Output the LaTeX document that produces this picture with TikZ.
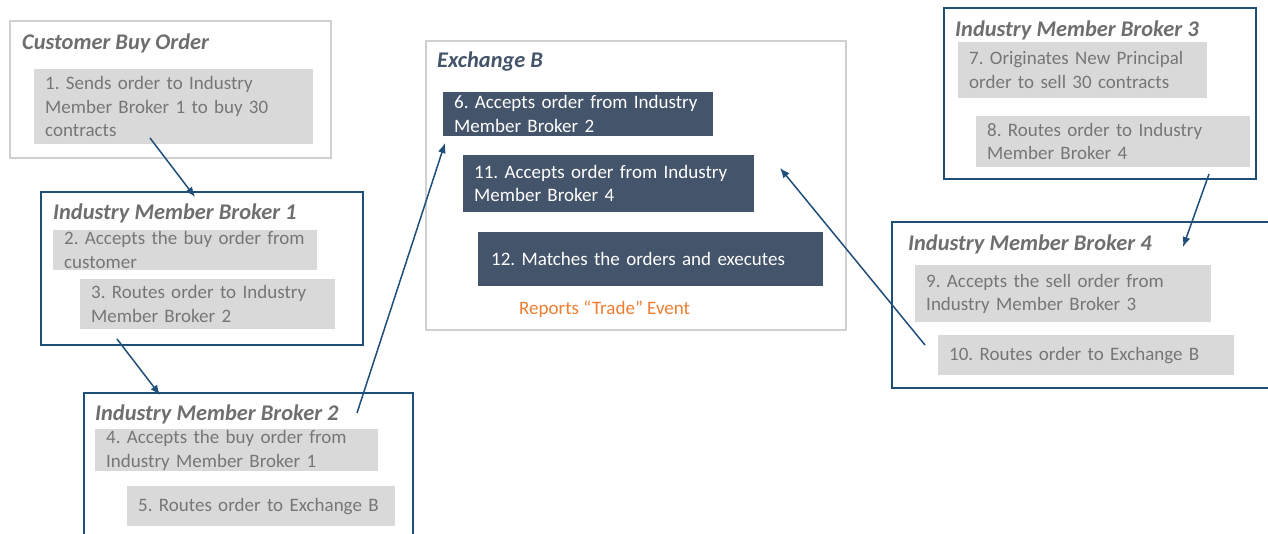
\documentclass[tikz,border=0pt]{standalone}
\usepackage{fontspec}
\setmainfont{Carlito}
\usetikzlibrary{arrows.meta}
\definecolor{framegray}{HTML}{D0D0D0}
\definecolor{framenavy}{HTML}{1F4E79}
\definecolor{stepgray}{HTML}{D9D9D9}
\definecolor{textgray}{HTML}{767676}
\definecolor{titlegray}{HTML}{6E6E6E}
\definecolor{slate}{HTML}{44546A}
\definecolor{tradeorange}{HTML}{ED7D31}
\tikzset{
    panel/.style = {draw=framegray, line width=2pt, anchor=north west, inner sep=0pt},
    broker/.style = {draw=framenavy, line width=2pt, anchor=north west, inner sep=0pt},
    paneltitle/.style = {anchor=west, inner sep=0pt, text=titlegray, font=\fontsize{22.4}{26}\selectfont\bfseries\itshape},
    stepbox/.style = {fill=stepgray, text=textgray, anchor=north west, align=left, inner xsep=11pt, inner ysep=0pt, font=\fontsize{19}{23.5}\selectfont\frenchspacing},
    exchbox/.style = {stepbox, fill=slate, text=white},
    flow/.style = {draw=framenavy, line width=1.5pt, -{Latex[length=10pt,width=8pt]}}
}
\begin{document}
\begin{tikzpicture}[x=1pt, y=-1pt]
    \clip (0,0) rectangle (1268,534);
    % frames
    \node[panel, minimum width=321pt, minimum height=137pt] (cust) at (9,20) {};
    \node[broker, minimum width=322pt, minimum height=153pt] (brk1) at (40,191) {};
    \node[broker, minimum width=329pt, minimum height=170pt] (brk2) at (83,392) {};
    \node[panel, minimum width=420pt, minimum height=289pt] (exch) at (425,40) {};
    \node[broker, minimum width=312pt, minimum height=171pt] (brk3) at (943,7) {};
    \node[broker, minimum width=400pt, minimum height=166pt] (brk4) at (891,221) {};
    % titles
    \node[paneltitle] (custT) at (22,43) {Customer Buy Order};
    \node[paneltitle] (brk1T) at (53,213) {Industry Member Broker 1};
    \node[paneltitle] (brk2T) at (95,414) {Industry Member Broker 2};
    \node[paneltitle, text=slate] (exchT) at (437,62) {Exchange B};
    \node[paneltitle] (brk3T) at (955,30) {Industry Member Broker 3};
    \node[paneltitle] (brk4T) at (908,244) {Industry Member Broker 4};
    % steps
    \node[stepbox, text width=257pt, minimum height=75pt] (s1) at (34,69) {1. Sends order to Industry\\Member Broker 1 to buy 30\\contracts};
    \node[stepbox, text width=242pt, minimum height=40pt] (s2) at (53,230) {2. Accepts the buy order from\\customer};
    \node[stepbox, text width=233pt, minimum height=50pt] (s3) at (80,279) {3. Routes order to Industry\\Member Broker 2};
    \node[stepbox, text width=261pt, minimum height=42pt] (s4) at (95,429) {4. Accepts the buy order from\\Industry Member Broker 1};
    \node[stepbox, text width=246pt, minimum height=40pt] (s5) at (127,486) {5. Routes order to Exchange B};
    \node[exchbox, text width=248pt, minimum height=44pt] (s6) at (443,92) {6. Accepts order from Industry\\Member Broker 2};
    \node[exchbox, text width=269pt, minimum height=57pt] (s11) at (463,155) {11. Accepts order from Industry\\Member Broker 4};
    \node[exchbox, text width=319pt, minimum height=54pt, inner xsep=13pt] (s12) at (478,232) {12. Matches the orders and executes};
    \node[anchor=west, inner sep=0pt, text=tradeorange, font=\fontsize{19}{23.5}\selectfont] (trade) at (519,309) {Reports “Trade” Event};
    \node[stepbox, text width=227pt, minimum height=56pt] (s7) at (958,42) {7. Originates New Principal\\order to sell 30 contracts};
    \node[stepbox, text width=252pt, minimum height=51pt] (s8) at (976,116) {8. Routes order to Industry\\Member Broker 4};
    \node[stepbox, text width=274pt, minimum height=57pt] (s9) at (915,265) {9. Accepts the sell order from\\Industry Member Broker 3};
    \node[stepbox, text width=274pt, minimum height=40pt] (s10) at (938,335) {10. Routes order to Exchange B};
    % arrow ends
    \coordinate (a1s) at (150,138);
    \coordinate (a1e) at (195,197);
    \coordinate (a2s) at (117,339);
    \coordinate (a2e) at (160,395);
    \coordinate (a3s) at (357,413);
    \coordinate (a3e) at (445,143);
    \coordinate (a4s) at (1209,174);
    \coordinate (a4e) at (1183,247);
    \coordinate (a5s) at (925,345);
    \coordinate (a5e) at (780,168);
    \draw[flow] (a1s) -- (a1e);
    \draw[flow] (a2s) -- (a2e);
    \draw[flow] (a3s) -- (a3e);
    \draw[flow] (a4s) -- (a4e);
    \draw[flow] (a5s) -- (a5e);
\end{tikzpicture}
\end{document}
